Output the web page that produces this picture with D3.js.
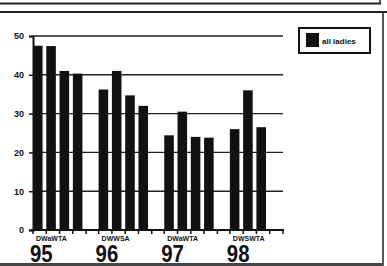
<!DOCTYPE html>
<html>
<head>
<meta charset="utf-8">
<script src="https://cdn.jsdelivr.net/npm/d3@7"></script>
<style>
body { margin: 0; background: #fff; }
svg { display: block; font-family: "Liberation Sans", Arial, sans-serif; }
</style>
</head>
<body>
<script>
// years and the sub-groups under each one
var years = ["95", "96", "97", "98"];
var subLabels = ["DWaWTA", "DWWSA", "DWaWTA", "DWSWTA"];
var values = [
  [47.5, 47.4, 41, 40.3],
  [36.2, 41, 34.7, 32],
  [24.4, 30.5, 24, 23.8],
  [26, 36, 26.5]
];
var yTicks = [0, 10, 20, 30, 40, 50];
var legendLabel = "all ladies";

var W = 387, H = 266;
var svg = d3.select("body").append("svg").attr("width", W).attr("height", H);

// scanned frame
svg.append("rect").attr("width", W).attr("height", H).attr("fill", "#fff");
svg.append("line").attr("x1", 0).attr("x2", 381).attr("y1", 3.5).attr("y2", 3.5)
  .attr("stroke", "#222").attr("stroke-width", 2);
svg.append("line").attr("x1", 380).attr("x2", 380).attr("y1", 0).attr("y2", 4)
  .attr("stroke", "#222").attr("stroke-width", 1.5);
svg.append("line").attr("x1", 0).attr("x2", W).attr("y1", 12).attr("y2", 12)
  .attr("stroke", "#222").attr("stroke-width", 2);
svg.append("line").attr("x1", 383).attr("x2", 383).attr("y1", 12).attr("y2", H)
  .attr("stroke", "#222").attr("stroke-width", 1.5);
svg.append("line").attr("x1", 0).attr("x2", 382).attr("y1", 264.5).attr("y2", 264.5)
  .attr("stroke", "#444").attr("stroke-width", 3);

var x = d3.scaleBand().domain(years).range([33, 283]).paddingInner(0.19).paddingOuter(0);
var xi = d3.scaleBand().domain([0, 1, 2, 3]).range([0, x.bandwidth()])
  .paddingInner(0.28).paddingOuter(0.14).align(0);
var y = d3.scaleLinear().domain([0, 50]).range([230, 36]);

// gridlines
svg.append("g").selectAll("line").data(yTicks.filter(function(d){ return d > 0; }))
  .join("line")
  .attr("x1", 33).attr("x2", 283)
  .attr("y1", function(d){ return y(d); }).attr("y2", function(d){ return y(d); })
  .attr("stroke", "#222").attr("stroke-width", 1.4);

// y axis
var yAxis = svg.append("g").attr("transform", "translate(33,0)")
  .call(d3.axisLeft(y).tickValues(yTicks).tickSize(4).tickPadding(5));
yAxis.select(".domain").attr("stroke", "#111").attr("stroke-width", 2);
yAxis.selectAll(".tick line").attr("stroke", "#111").attr("stroke-width", 1.5);
yAxis.selectAll("text").attr("font-size", 9).attr("font-weight", "bold").attr("fill", "#111");

// bars
var groups = svg.append("g").selectAll("g").data(years).join("g")
  .attr("transform", function(d){ return "translate(" + x(d) + ",0)"; });
groups.selectAll("rect").data(function(d, i){ return values[i]; }).join("rect")
  .attr("x", function(d, i){ return xi(i); })
  .attr("width", xi.bandwidth())
  .attr("y", function(d){ return y(d); })
  .attr("height", function(d){ return y(0) - y(d); })
  .attr("fill", "#111");

// x axis line with ticks at slot edges
svg.append("line").attr("x1", 31).attr("x2", 284).attr("y1", y(0)).attr("y2", y(0))
  .attr("stroke", "#111").attr("stroke-width", 2);
var tickXs = [];
years.forEach(function(yr){
  for (var k = 0; k <= 4; k++) tickXs.push(x(yr) + k * xi.step());
});
svg.append("g").selectAll("line").data(tickXs).join("line")
  .attr("x1", function(d){ return d; }).attr("x2", function(d){ return d; })
  .attr("y1", y(0)).attr("y2", y(0) + 4)
  .attr("stroke", "#111").attr("stroke-width", 1.5);

// small sub-labels and big year labels
groups.append("text")
  .attr("x", 3).attr("y", 240.5)
  .attr("font-size", 7).attr("font-weight", "bold").attr("fill", "#111")
  .text(function(d, i){ return subLabels[i]; });
groups.append("text")
  .attr("transform", "translate(-3,261.5) scale(0.85,1)")
  .attr("font-size", 24).attr("font-weight", "bold").attr("fill", "#111")
  .text(function(d){ return d; });

// legend
var lg = svg.append("g").attr("transform", "translate(299,28)");
lg.append("rect").attr("width", 71).attr("height", 25)
  .attr("fill", "#fff").attr("stroke", "#111").attr("stroke-width", 2);
lg.append("rect").attr("x", 7).attr("y", 5).attr("width", 13).attr("height", 14).attr("fill", "#111");
lg.append("text").attr("x", 23).attr("y", 16)
  .attr("font-size", 8).attr("font-weight", "bold").attr("fill", "#111")
  .text(legendLabel);
</script>
</body>
</html>
